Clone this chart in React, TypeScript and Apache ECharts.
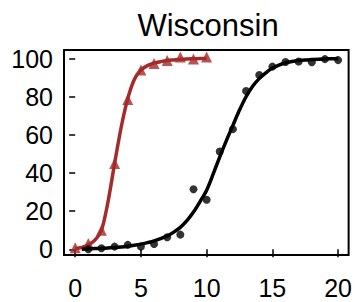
import React, { useEffect, useRef } from "react";
import * as echarts from "echarts";

const xTicks = [0, 5, 10, 15, 20];
const yTicks = [0, 20, 40, 60, 80, 100];

// Red (triangles) observed points
const redX = [0, 1, 2, 3, 4, 5, 6, 7, 8, 9, 10];
const redY = [0.8, 3, 10, 45, 78.5, 94, 97.4, 99, 100.8, 99.8, 100.8];

// Red fitted curve
const redCurveX = [0, 0.5, 1, 1.5, 2, 2.5, 3, 3.5, 4, 4.5, 5, 5.5, 6, 6.5, 7, 7.5, 8, 8.5, 9, 9.5, 10];
const redCurveY = [0.3, 1, 2.3, 4.8, 10, 25, 45, 64, 79, 89, 94, 96.3, 97.6, 98.4, 99, 99.3, 99.6, 99.8, 99.9, 100, 100];

// Black (circles) observed points
const blackX = [1, 2, 3, 4, 5, 6, 7, 8, 9, 10, 11, 12, 13, 14, 15, 16, 17, 18, 19, 20];
const blackY = [0, 0.5, 1.4, 2.3, 1.4, 2.8, 6.3, 7.7, 31.5, 26, 51.3, 63, 83, 91.4, 95.8, 98.2, 98.5, 98.1, 99.7, 99.2];

// Black fitted curve
const blackCurveX = [
  0.5, 1, 1.5, 2, 2.5, 3, 3.5, 4, 4.5, 5, 5.5, 6, 6.5, 7, 7.5, 8, 8.5, 9, 9.5, 10,
  10.5, 11, 11.5, 12, 12.5, 13, 13.5, 14, 14.5, 15, 15.5, 16, 16.5, 17, 17.5, 18, 18.5, 19, 19.5, 20,
];
const blackCurveY = [
  0, 0.2, 0.35, 0.5, 0.7, 0.9, 1.2, 1.6, 2.1, 2.7, 3.5, 4.4, 5.6, 7, 9, 11.5, 15, 19.5, 25, 31,
  39.5, 48.5, 57, 65, 73, 80, 85.5, 89.5, 92.5, 95, 96.6, 97.8, 98.5, 99, 99.3, 99.5, 99.7, 99.8, 99.9, 100,
];

const titleText = "Wisconsin";

const RED = "#A52A2A";
const FONT = '"Liberation Sans", Arial, Helvetica, sans-serif';

const zip = (xs: number[], ys: number[]) => xs.map((x, i) => [x, ys[i]]);

export default function App() {
  const ref = useRef<HTMLDivElement>(null);
  useEffect(() => {
    if (!ref.current) return;
    const chart = echarts.init(ref.current, undefined, { renderer: "svg" });
    chart.setOption({
      animation: false,
      backgroundColor: "#fff",
      graphic: [
        {
          type: "text",
          x: 208,
          y: 25,
          style: {
            text: titleText,
            font: `31px ${FONT}`,
            fill: "#000",
            align: "center",
            verticalAlign: "middle",
            textAlign: "center",
            textVerticalAlign: "middle",
          },
        },
      ],
      grid: {
        show: true,
        left: 64,
        right: 3.5,
        top: 50,
        bottom: 47,
        borderColor: "#000",
        borderWidth: 2,
        containLabel: false,
      },
      xAxis: {
        type: "value",
        min: -0.85,
        max: 20.8,
        splitLine: { show: false },
        axisLine: { show: false },
        axisTick: {
          show: true,
          inside: false,
          length: 8,
          customValues: xTicks,
          lineStyle: { color: "#000", width: 1.5 },
        },
        axisLabel: {
          customValues: xTicks,
          fontSize: 25,
          fontFamily: FONT,
          color: "#000",
          margin: 20,
        },
      },
      yAxis: {
        type: "value",
        min: -3,
        max: 104.5,
        splitLine: { show: false },
        axisLine: { show: false },
        axisTick: {
          show: true,
          inside: false,
          length: 6,
          customValues: yTicks,
          lineStyle: { color: "#000", width: 1.5 },
        },
        axisLabel: {
          customValues: yTicks,
          fontSize: 25,
          fontFamily: FONT,
          color: "#000",
          margin: 11,
        },
      },
      series: [
        {
          type: "line",
          data: zip(redCurveX, redCurveY),
          smooth: 0.3,
          showSymbol: false,
          lineStyle: { color: RED, width: 3.5 },
          itemStyle: { color: RED },
          z: 2,
        },
        {
          type: "scatter",
          data: zip(redX, redY),
          symbol: "triangle",
          symbolSize: 11,
          itemStyle: { color: RED },
          z: 3,
        },
        {
          type: "line",
          data: zip(blackCurveX, blackCurveY),
          smooth: 0.3,
          showSymbol: false,
          lineStyle: { color: "#000", width: 3.5 },
          itemStyle: { color: "#000" },
          z: 4,
        },
        {
          type: "scatter",
          data: zip(blackX, blackY),
          symbol: "circle",
          symbolSize: 8,
          itemStyle: { color: "#000" },
          z: 5,
        },
      ],
    });
    return () => chart.dispose();
  }, []);
  return (
    <div
      ref={ref}
      style={{ position: "absolute", left: 0, top: 0, width: 355, height: 302 }}
    />
  );
}
